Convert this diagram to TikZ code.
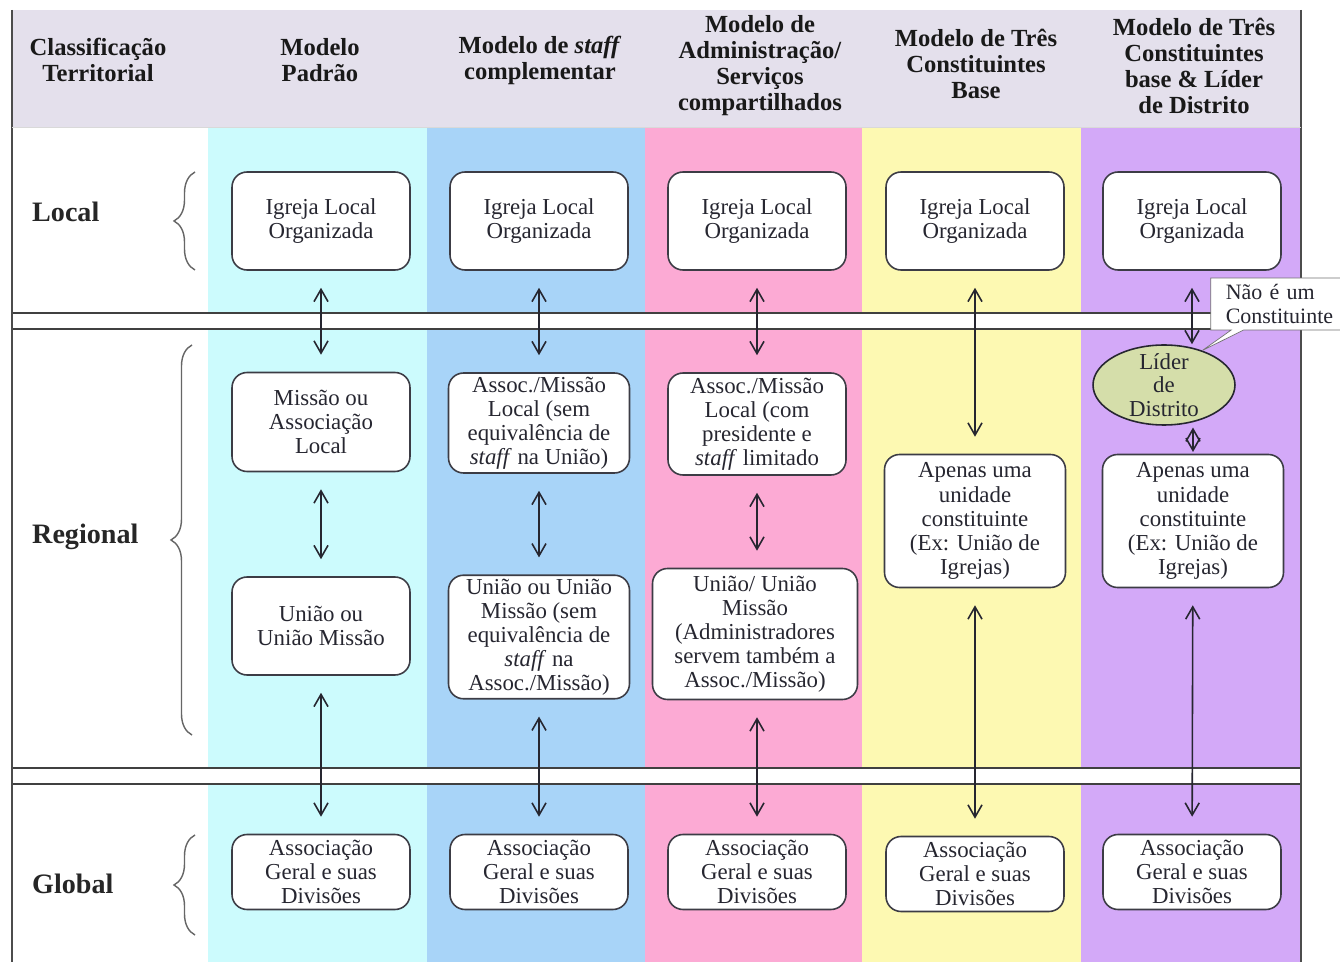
\documentclass[tikz,border=0pt]{standalone}
\usepackage{fontspec}
\setmainfont{Liberation Serif}
\usetikzlibrary{arrows.meta,shapes.geometric,shapes.callouts,decorations.pathreplacing}
\definecolor{cabec}{HTML}{E4E0EC}
\definecolor{ciano}{HTML}{CCFBFD}
\definecolor{azul}{HTML}{A8D4F8}
\definecolor{rosa}{HTML}{FCAAD4}
\definecolor{amarelo}{HTML}{FDF9B2}
\definecolor{lilas}{HTML}{D3A9F8}
\definecolor{oliva}{HTML}{D5DEAA}
\definecolor{tinta}{HTML}{262630}

\begin{document}
\begin{tikzpicture}[x=0.02cm, y=-0.02cm,
		caixa/.style={draw=tinta!90, line width=0.9pt, fill=white, rounded corners=0.3cm, align=center, inner sep=2pt, minimum width=3.56cm, font=\fontsize{13}{13.7}\selectfont, text=tinta},
		titulo/.style={align=center, font=\bfseries\fontsize{14}{14.8}\selectfont, text=black!90},
		nivel/.style={anchor=west, font=\bfseries\fontsize{16}{18}\selectfont, text=black!85},
		seta/.style={<->, >={Straight Barb[length=7pt,width=8pt]}, line width=0.9pt, draw=tinta, shorten >=0.34cm, shorten <=0.34cm},
		chave/.style={draw=black!60, line width=0.8pt, decorate, decoration={brace, amplitude=0.42cm}},
		linha/.style={line width=1.2pt, draw=black!75}]

	\useasboundingbox (0,0) rectangle (1340,962);
	\fill[white] (0,0) rectangle (1340,962);
	\fill[cabec] (12,10) rectangle (1301,127);
	\fill[ciano] (208,127) rectangle (427,962);
	\fill[azul] (427,127) rectangle (645,962);
	\fill[rosa] (645,127) rectangle (862,962);
	\fill[amarelo] (862,127) rectangle (1081,962);
	\fill[lilas] (1081,127) rectangle (1301,962);
	\fill[white] (12,313) rectangle (1301,329);
	\fill[white] (12,768) rectangle (1301,784);
	\draw[linha] (12,313) -- (1301,313) (12,329) -- (1301,329);
	\draw[linha] (12,768) -- (1301,768) (12,784) -- (1301,784);
	\draw[linha, black!70] (12,10) -- (12,962) (1301,10) -- (1301,962);
	\draw[black!15] (12,127) -- (1301,127);

	\node[titulo] (hclass) at (98,60) {Classificação\\Territorial};
	\node[titulo] (hpadrao) at (320,60) {Modelo\\Padrão};
	\node[titulo] (hstaff) at (540,60) {Modelo de \textit{staff}\\complementar};
	\node[titulo] (hadmin) at (760,66) {Modelo de\\Administração/\\Serviços\\compartilhados};
	\node[titulo] (hbase) at (976,64) {Modelo de Três\\Constituintes\\Base};
	\node[titulo] (hlider) at (1194,66) {Modelo de Três\\Constituintes\\base \& Líder\\de Distrito};

	\node[nivel] (nlocal) at (26,212) {Local};
	\node[nivel] (nregional) at (26,537) {Regional};
	\node[nivel] (nglobal) at (26,884) {Global};
	\draw[chave] (195,270) -- (195,172);
	\draw[chave] (192,735) -- (192,345);
	\draw[chave] (195,935) -- (195,835);

	\node[caixa, minimum height=1.96cm] (loc1) at (321,221) {Igreja Local\\Organizada};
	\node[caixa, minimum height=1.96cm] (loc2) at (539,221) {Igreja Local\\Organizada};
	\node[caixa, minimum height=1.96cm] (loc3) at (757,221) {Igreja Local\\Organizada};
	\node[caixa, minimum height=1.96cm] (loc4) at (975,221) {Igreja Local\\Organizada};
	\node[caixa, minimum height=1.96cm] (loc5) at (1192,221) {Igreja Local\\Organizada};

	\node[caixa, minimum height=1.98cm] (assoc1) at (321,422) {Missão ou\\Associação\\Local};
	\node[caixa, minimum height=2cm, minimum width=3.62cm] (assoc2) at (539,423) {Assoc./Missão\\Local (sem\\equivalência de\\\textit{staff} na União)};
	\node[caixa, minimum height=2.04cm] (assoc3) at (757,424) {Assoc./Missão\\Local (com\\presidente e\\\textit{staff} limitado};

	\node[caixa, minimum height=1.96cm] (uniao1) at (321,626) {União ou\\União Missão};
	\node[caixa, minimum height=2.4cm, minimum width=3.62cm] (uniao2) at (539,637) {União ou União\\Missão (sem\\equivalência de\\\textit{staff} na\\Assoc./Missão)};
	\node[caixa, minimum height=2.62cm, minimum width=4.1cm] (uniao3) at (755,634) {União/ União\\Missão\\(Administradores\\servem também a\\Assoc./Missão)};

	\node[caixa, minimum height=2.66cm, minimum width=3.62cm] (unid4) at (975,521) {Apenas uma\\unidade\\constituinte\\(Ex: União de\\Igrejas)};
	\node[caixa, minimum height=2.66cm, minimum width=3.62cm] (unid5) at (1193,521) {Apenas uma\\unidade\\constituinte\\(Ex: União de\\Igrejas)};

	\node[ellipse, draw=tinta, line width=0.9pt, fill=oliva, align=center, inner xsep=0pt, inner ysep=-4pt, minimum width=2.84cm, minimum height=1.6cm, font=\fontsize{13}{13.3}\selectfont, text=tinta] (lider) at (1164,385) {Líder\\de\\Distrito};

	\node[caixa, minimum height=1.5cm] (geral1) at (321,872) {Associação\\Geral e suas\\Divisões};
	\node[caixa, minimum height=1.5cm] (geral2) at (539,872) {Associação\\Geral e suas\\Divisões};
	\node[caixa, minimum height=1.5cm] (geral3) at (757,872) {Associação\\Geral e suas\\Divisões};
	\node[caixa, minimum height=1.5cm] (geral4) at (975,874) {Associação\\Geral e suas\\Divisões};
	\node[caixa, minimum height=1.5cm] (geral5) at (1192,872) {Associação\\Geral e suas\\Divisões};

	\node[rectangle callout, callout absolute pointer={(lider.42)}, draw=black!55, fill=white, align=left, text width=2.25cm, inner xsep=0.3cm, inner ysep=3pt, minimum height=1.04cm, font=\fontsize{12.5}{13.6}\selectfont, text=tinta] (nota) at (1282,304) {Não é um\\Constituinte};

	\draw[seta] (loc1) -- (assoc1);
	\draw[seta] (assoc1) -- (uniao1);
	\draw[seta] (uniao1) -- (geral1);
	\draw[seta] (loc2) -- (assoc2);
	\draw[seta] (assoc2) -- (uniao2);
	\draw[seta] (uniao2) -- (geral2);
	\draw[seta] (loc3) -- (assoc3);
	\draw[seta] (assoc3) -- (assoc3 |- uniao3.north);
	\draw[seta] (uniao3.south -| geral3) -- (geral3);
	\draw[seta] (loc4) -- (unid4);
	\draw[seta] (unid4) -- (geral4);
	\draw[seta, shorten >=0pt] (loc5) -- (loc5 |- lider.north);
	\draw[seta, shorten >=1pt, shorten <=1pt] (unid5.north |- lider.south) -- (unid5.north);
	\draw[seta] (unid5) -- (geral5);
\end{tikzpicture}
\end{document}
